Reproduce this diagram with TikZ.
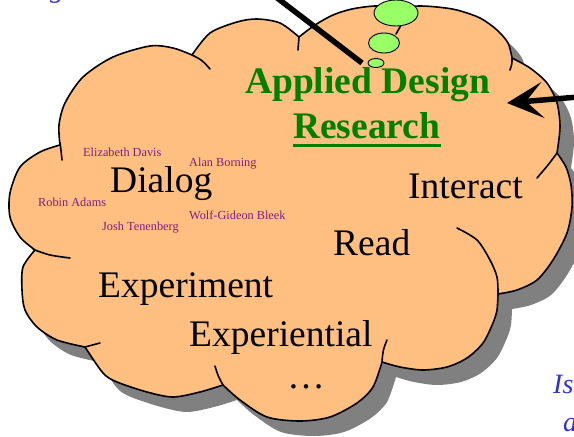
\documentclass[tikz,border=0pt]{standalone}
\usepackage{fontspec}
\setmainfont{Liberation Serif}
\usetikzlibrary{arrows.meta,calc,shapes.geometric}
\definecolor{cloudfill}{RGB}{255,191,128}
\definecolor{shadowgray}{RGB}{128,128,128}
\definecolor{titlegreen}{RGB}{0,128,0}
\definecolor{bubblegreen}{RGB}{153,255,102}
\definecolor{namepurple}{RGB}{128,30,128}
\definecolor{noteblue}{RGB}{51,51,204}
\newcommand\cloudshape[1]{%
\path[#1] plot[smooth] coordinates {(60,145) (59,125) (65,103) (83,77) (113,57) (150,46) (173,48) (192,55)}
 -- plot[smooth] coordinates {(192,55) (210,33) (237,22) (257,19) (280,23) (299,37)}
 -- plot[smooth] coordinates {(299,37) (315,25) (333,15) (352,9) (375,6) (403,7)}
 -- plot[smooth] coordinates {(403,7) (420,6) (437,7) (457,10) (480,18) (497,30) (508,43) (512,58)}
 -- plot[smooth] coordinates {(512,58) (530,68) (547,83) (557,103) (560,127) (557,153)}
 -- plot[smooth] coordinates {(557,153) (566,167) (571,185) (572,207) (567,233) (553,260) (537,280) (517,290) (498,294)}
 -- plot[smooth] coordinates {(498,294) (497,310) (493,323) (483,343) (467,358) (447,367) (423,370) (400,367) (382,362)}
 -- plot[smooth] coordinates {(382,362) (373,387) (357,403) (330,417) (300,421) (267,417) (240,400) (223,385)}
 -- plot[smooth] coordinates {(223,385) (200,392) (173,397) (147,392) (117,382) (103,373) (85,347)}
 -- plot[smooth] coordinates {(85,347) (57,340) (37,327) (25,310) (22,290) (23,267) (35,250)}
 -- plot[smooth] coordinates {(35,250) (20,237) (10,217) (10,193) (20,167) (40,152) (60,145)}
 -- cycle;}
\begin{document}
\begin{tikzpicture}[x=1pt,y=-1pt,
  outline/.style={draw=black, line width=1.6pt, line join=round},
  tail/.style={draw=black, line width=1.6pt, line cap=round},
  txt/.style={inner sep=0pt, anchor=base west},
  bigword/.style={txt, font=\fontsize{37.5}{40}\selectfont},
  titleword/.style={txt, text=titlegreen, font=\fontsize{37.5}{40}\selectfont\bfseries},
  person/.style={txt, text=namepurple, font=\fontsize{12.3}{14}\selectfont},
  note/.style={txt, text=noteblue, font=\fontsize{28}{30}\selectfont\itshape},
  bubble/.style={ellipse, draw=black, line width=0.9pt, fill=bubblegreen, inner sep=0pt}]
\useasboundingbox (0,0) rectangle (574,437);
\clip (0,0) rectangle (574,437);
% shadow and cloud
\cloudshape{fill=shadowgray, shift={(14,15)}}
\cloudshape{fill=cloudfill, outline}
% inner tails of the lobes
\draw[tail] (60,143) .. controls (61,150) .. (62,160);
\draw[tail] (192,55) .. controls (202,60) .. (210,69);
\draw[tail] (299,37) .. controls (298,43) .. (298,50);
\draw[tail] (404,20) .. controls (400,27) .. (396,34);
\draw[tail] (512,58) .. controls (512,64) .. (510,70);
\draw[tail] (557,153) .. controls (549,164) .. (537,178);
\draw[tail] plot[smooth] coordinates {(498,294) (497,277) (490,260) (477,240) (457,228)};
\draw[tail] (382,362) .. controls (383,350) .. (387,340);
\draw[tail] (223,385) .. controls (218,376) .. (215,366);
\draw[tail] (85,347) .. controls (92,345) .. (100,343);
\draw[tail] plot[smooth] coordinates {(35,250) (50,255) (70,258)};
% texts
\node[titleword] (applied) at (245,93) {Applied Design};
\node[titleword] (research) at (293,138) {Research};
\draw[titlegreen, line width=3pt] ($(research.base west)+(0,7)$) -- ($(research.base east)+(0,7)$);
\node[person] (davis) at (83,156) {Elizabeth Davis};
\node[person] (borning) at (189,166) {Alan Borning};
\node[bigword] (dialog) at (110,192) {Dialog};
\node[person] (adams) at (38,206) {Robin Adams};
\node[person] (bleek) at (189,219) {Wolf-Gideon Bleek};
\node[person] (tenenberg) at (102,230) {Josh Tenenberg};
\node[bigword] (interact) at (408,198) {Interact};
\node[bigword] (read) at (333,255) {Read};
\node[bigword] (experiment) at (98,297) {Experiment};
\node[bigword] (experiential) at (189,346) {Experiential};
\node[bigword, anchor=base] (dots) at (306,388) {\dots};
\node[note] (is) at (553,393) {Is};
\node[note] (a) at (563,431) {a};
\node[note] (g) at (50,-3) {g};
% thought bubbles
\node[bubble, minimum width=44pt, minimum height=26pt] (b1) at (396,13) {};
\node[bubble, minimum width=31pt, minimum height=20pt] (b2) at (384,43) {};
\node[bubble, minimum width=16pt, minimum height=9pt] (b3) at (376,63) {};
% pointers
\coordinate (lineTop) at (272,-6);
\coordinate (lineEnd) at (362,63);
\draw[line width=5.5pt] (lineTop) -- (lineEnd);
\coordinate (arrowStart) at (590,96);
\coordinate (arrowTip) at (507,103);
\draw[line width=5.5pt, -{Stealth[length=36pt, width=36pt, inset=17pt]}] (arrowStart) -- (arrowTip);
\end{tikzpicture}
\end{document}
